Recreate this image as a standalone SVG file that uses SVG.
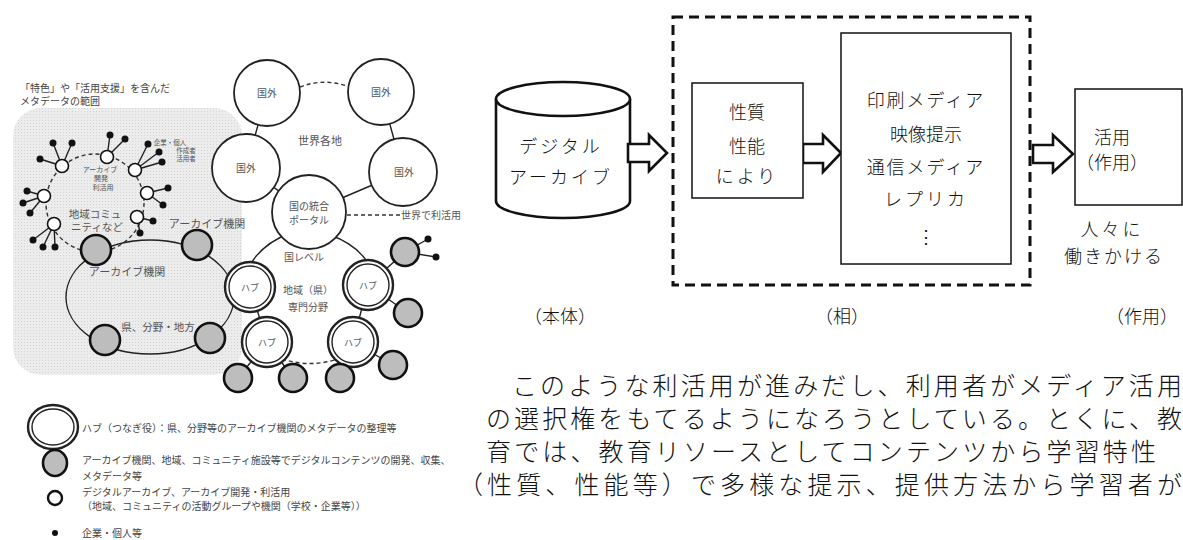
<svg xmlns="http://www.w3.org/2000/svg" width="1183" height="540" viewBox="0 0 1183 540">
<defs>
<pattern id="dots" width="3" height="3" patternUnits="userSpaceOnUse">
<rect width="3" height="3" fill="#ececec"/>
<rect width="1" height="1" fill="#d4d4d4"/>
</pattern>
<style>
.jp{font-family:"Noto Sans CJK JP","Noto Sans CJK SC",sans-serif;}
.sm{font-family:"Noto Sans CJK JP",sans-serif;fill:#555;text-anchor:middle;}
.lg{font-family:"Noto Sans CJK JP",sans-serif;fill:#444;font-size:10px;}
.rt{font-family:"Noto Sans CJK JP",sans-serif;fill:#111;font-size:18px;text-anchor:middle;font-weight:300;}
.para{font-family:"Noto Sans CJK JP",sans-serif;fill:#111;font-size:25px;font-weight:300;}
.world{fill:#fff;stroke:#222;stroke-width:1.8;}
.gray{fill:#bdbdbd;stroke:#111;stroke-width:2.6;}
.wc{fill:#fff;stroke:#111;stroke-width:1.6;}
.dot{fill:#111;}
.ln{stroke:#222;stroke-width:1.4;fill:none;}
.dash{stroke:#333;stroke-width:1.4;fill:none;stroke-dasharray:4 3;}
.hubo{fill:#fff;stroke:#222;stroke-width:2.4;}
.hubi{fill:#fff;stroke:#222;stroke-width:1.4;}
.box{fill:#fff;stroke:#111;stroke-width:1.5;}
.arrow{fill:#fff;stroke:#111;stroke-width:2.6;stroke-linejoin:miter;}
</style>
</defs>
<rect width="1183" height="540" fill="#fff"/>

<!-- LEFT DIAGRAM -->
<g id="shade"><rect x="13" y="108" width="229" height="267" rx="28" fill="url(#dots)"/></g>
<g id="title">
<text class="jp" x="20" y="92" font-size="10" fill="#444">「特色」や「活用支援」を含んだ</text>
<text class="jp" x="20" y="105" font-size="10" fill="#444">メタデータの範囲</text>
</g>

<g id="connectors">
<!-- world -->
<path class="dash" d="M300,87 Q323,78 347,86"/>
<line class="ln" x1="267" y1="93" x2="246" y2="168"/>
<line class="ln" x1="381" y1="92" x2="403" y2="172"/>
<line class="ln" x1="309" y1="212" x2="246" y2="168"/>
<line class="ln" x1="309" y1="212" x2="403" y2="172"/>
<line class="dash" x1="347" y1="215" x2="400" y2="215"/>
<!-- national level ring -->
<path class="ln" d="M250,265 Q262,244 290,233"/>
<path class="ln" d="M330,235 Q356,244 368,263"/>
<line class="ln" x1="250" y1="287" x2="267" y2="342"/>
<line class="ln" x1="368" y1="285" x2="353" y2="342"/>
<path class="dash" d="M282,359 Q310,368 338,359"/>
<!-- hub spokes -->
<line class="ln" x1="368" y1="285" x2="405" y2="252"/>
<line class="ln" x1="405" y1="252" x2="428" y2="239"/>
<line class="ln" x1="405" y1="252" x2="436" y2="257"/>
<line class="ln" x1="368" y1="285" x2="408" y2="313"/>
<line class="ln" x1="353" y1="342" x2="393" y2="365"/>
<line class="ln" x1="353" y1="342" x2="340" y2="377"/>
<line class="ln" x1="267" y1="342" x2="238" y2="378"/>
<line class="ln" x1="267" y1="342" x2="293" y2="378"/>
<!-- regional ellipse -->
<ellipse class="ln" cx="150" cy="297" rx="84" ry="57"/>
<!-- community dashed ring -->
<circle class="dash" cx="95" cy="203" r="49"/>
<!-- spokes to individuals -->
<g class="ln">
<line x1="62" y1="166" x2="40" y2="159"/><line x1="62" y1="166" x2="53" y2="143"/><line x1="62" y1="166" x2="72" y2="143"/>
<line x1="107" y1="157" x2="110" y2="135"/><line x1="107" y1="157" x2="125" y2="139"/>
<line x1="135" y1="170" x2="148" y2="144"/><line x1="135" y1="170" x2="159" y2="152"/><line x1="135" y1="170" x2="162" y2="162"/>
<line x1="147" y1="193" x2="168" y2="188"/><line x1="147" y1="193" x2="163" y2="205"/>
<line x1="137" y1="217" x2="153" y2="221"/><line x1="137" y1="217" x2="140" y2="233"/>
<line x1="44" y1="196" x2="27" y2="191"/><line x1="44" y1="196" x2="23" y2="203"/><line x1="44" y1="196" x2="30" y2="213"/>
<line x1="54" y1="224" x2="33" y2="240"/><line x1="54" y1="224" x2="43" y2="247"/><line x1="54" y1="224" x2="55" y2="247"/>
</g>
</g>

<g id="world-nodes">
<g id="kokugai-1"><circle class="world" cx="267" cy="93" r="33"/><text class="sm" x="267" y="97" font-size="10">国外</text></g>
<g id="kokugai-2"><circle class="world" cx="381" cy="92" r="33"/><text class="sm" x="381" y="96" font-size="10">国外</text></g>
<g id="kokugai-3"><circle class="world" cx="246" cy="168" r="34"/><text class="sm" x="246" y="172" font-size="10">国外</text></g>
<g id="kokugai-4"><circle class="world" cx="403" cy="172" r="34"/><text class="sm" x="404" y="176" font-size="10">国外</text></g>
<g id="sekai"><text class="sm" x="320" y="145" font-size="11">世界各地</text></g>
<g id="portal"><circle class="world" cx="309" cy="212" r="37"/><text class="sm" x="309" y="210" font-size="10">国の統合</text><text class="sm" x="309" y="224" font-size="10">ポータル</text></g>
<g id="sekai-riyou"><text class="sm" x="401" y="219" font-size="10" style="text-anchor:start">世界で利活用</text></g>
<g id="kuni-level"><text class="sm" x="304" y="261" font-size="10">国レベル</text>
<text class="sm" x="308" y="294" font-size="10">地域（県）</text><text class="sm" x="308" y="311" font-size="10">専門分野</text></g>
</g>

<g id="hubs">
<g id="hub-1"><circle class="hubo" cx="250" cy="287" r="25"/><circle class="hubi" cx="250" cy="287" r="21"/><text class="sm" x="250" y="291" font-size="9">ハブ</text></g>
<g id="hub-2"><circle class="hubo" cx="368" cy="285" r="25"/><circle class="hubi" cx="368" cy="285" r="21"/><text class="sm" x="368" y="289" font-size="9">ハブ</text></g>
<g id="hub-3"><circle class="hubo" cx="267" cy="342" r="25"/><circle class="hubi" cx="267" cy="342" r="21"/><text class="sm" x="267" y="346" font-size="9">ハブ</text></g>
<g id="hub-4"><circle class="hubo" cx="353" cy="342" r="25"/><circle class="hubi" cx="353" cy="342" r="21"/><text class="sm" x="353" y="346" font-size="9">ハブ</text></g>
</g>

<g id="archive-nodes">
<circle class="gray" cx="405" cy="252" r="14"/>
<circle class="gray" cx="408" cy="313" r="14"/>
<circle class="gray" cx="393" cy="365" r="14"/>
<circle class="gray" cx="340" cy="378" r="14"/>
<circle class="gray" cx="293" cy="378" r="14"/>
<circle class="gray" cx="238" cy="378" r="14"/>
<circle class="gray" cx="96" cy="250" r="15"/>
<circle class="gray" cx="197" cy="245" r="15"/>
<circle class="gray" cx="105" cy="340" r="15"/>
<circle class="gray" cx="210" cy="338" r="15"/>
<circle class="dot" cx="428" cy="239" r="3.5"/>
<circle class="dot" cx="436" cy="257" r="3.5"/>
</g>

<g id="region-labels">
<text class="sm" x="207" y="228" font-size="11">アーカイブ機関</text>
<text class="sm" x="127" y="276" font-size="11">アーカイブ機関</text>
<text class="sm" x="158" y="331" font-size="10.5">県、分野・地方</text>
</g>

<g id="community">
<circle class="wc" cx="62" cy="166" r="6.5"/>
<circle class="wc" cx="107" cy="157" r="6.5"/>
<circle class="wc" cx="135" cy="170" r="6.5"/>
<circle class="wc" cx="147" cy="193" r="6.5"/>
<circle class="wc" cx="137" cy="217" r="6.5"/>
<circle class="wc" cx="44" cy="196" r="6.5"/>
<circle class="wc" cx="54" cy="224" r="6.5"/>
<g class="dot">
<circle cx="40" cy="159" r="3.5"/><circle cx="53" cy="143" r="3.5"/><circle cx="72" cy="143" r="3.5"/>
<circle cx="110" cy="135" r="3.5"/><circle cx="125" cy="139" r="3.5"/>
<circle cx="148" cy="144" r="3.5"/><circle cx="159" cy="152" r="3.5"/><circle cx="162" cy="162" r="3.5"/>
<circle cx="168" cy="188" r="3.5"/><circle cx="163" cy="205" r="3.5"/>
<circle cx="153" cy="221" r="3.5"/><circle cx="140" cy="233" r="3.5"/>
<circle cx="27" cy="191" r="3.5"/><circle cx="23" cy="203" r="3.5"/><circle cx="30" cy="213" r="3.5"/>
<circle cx="33" cy="240" r="3.5"/><circle cx="43" cy="247" r="3.5"/><circle cx="55" cy="247" r="3.5"/>
</g>
<text class="sm" x="100" y="172" font-size="7">アーカイブ</text>
<text class="sm" x="101" y="181" font-size="7">開発</text>
<text class="sm" x="103" y="190" font-size="7">利活用</text>
<text class="sm" x="95" y="218" font-size="10.5">地域コミュ</text>
<text class="sm" x="97" y="231" font-size="10.5">ニティなど</text>
<text class="sm" x="170" y="145" font-size="6.5">企業・個人</text>
<text class="sm" x="186" y="153" font-size="6.5">作成者</text>
<text class="sm" x="186" y="161" font-size="6.5">活用者</text>
</g>

<g id="legend">
<ellipse class="hubo" cx="53" cy="427" rx="25" ry="22"/>
<ellipse class="hubi" cx="53" cy="427" rx="21" ry="18"/>
<text class="lg" x="82" y="432">ハブ（つなぎ役）：県、分野等のアーカイブ機関のメタデータの整理等</text>
<ellipse class="gray" cx="55" cy="463" rx="12" ry="13"/>
<text class="lg" x="82" y="464">アーカイブ機関、地域、コミュニティ施設等でデジタルコンテンツの開発、収集、</text>
<text class="lg" x="82" y="480">メタデータ等</text>
<circle cx="55" cy="498" r="7" fill="#fff" stroke="#111" stroke-width="2.4"/>
<text class="lg" x="82" y="496">デジタルアーカイブ、アーカイブ開発・利活用</text>
<text class="lg" x="82" y="510">（地域、コミュニティの活動グループや機関（学校・企業等））</text>
<circle class="dot" cx="55" cy="533" r="3"/>
<text class="lg" x="82" y="537">企業・個人等</text>
</g>

<!-- RIGHT DIAGRAM -->
<g id="dashed-frame"><rect x="673" y="17" width="357" height="268" fill="none" stroke="#111" stroke-width="3" stroke-dasharray="10 6"/></g>
<g id="cylinder">
<path d="M496,99 L496,201 A67,17 0 0 0 630,201 L630,99" fill="#fff" stroke="#111" stroke-width="2.6"/>
<ellipse cx="563" cy="99" rx="67" ry="17" fill="#fff" stroke="#111" stroke-width="2.6"/>
<text class="rt" x="561" y="153" letter-spacing="3">デジタル</text>
<text class="rt" x="561" y="184" letter-spacing="3">アーカイブ</text>
</g>
<g id="arrows">
<polygon class="arrow" points="628,144 649,144 649,135 667,153 649,171 649,162 628,162"/>
<polygon class="arrow" points="803,144 823,144 823,135 841,153 823,172 823,163 803,163"/>
<polygon class="arrow" points="1033,145 1053,145 1053,135 1073,154 1053,172 1053,163 1033,163"/>
</g>
<g id="seishitsu">
<rect class="box" x="692" y="83" width="111" height="115"/>
<text class="rt" x="747" y="119">性質</text>
<text class="rt" x="747" y="153">性能</text>
<text class="rt" x="747" y="183" letter-spacing="3">により</text>
</g>
<g id="media">
<rect class="box" x="841" y="33" width="170" height="231"/>
<text class="rt" x="926" y="107" letter-spacing="2">印刷メディア</text>
<text class="rt" x="926" y="141">映像提示</text>
<text class="rt" x="926" y="174" letter-spacing="2">通信メディア</text>
<text class="rt" x="926" y="206" letter-spacing="3">レプリカ</text>
<text class="rt" x="926" y="243">⋮</text>
</g>
<g id="katsuyou">
<rect class="box" x="1075" y="89" width="107" height="116"/>
<text class="rt" x="1112" y="144">活用</text>
<text class="rt" x="1112" y="169">（作用）</text>
</g>
<g id="hito"><text class="rt" x="1112" y="236" letter-spacing="3">人々に</text><text class="rt" x="1114" y="263" letter-spacing="2">働きかける</text></g>
<g id="bottom-labels">
<text class="rt" x="560" y="323">（本体）</text>
<text class="rt" x="842" y="323">（相）</text>
<text class="rt" x="1142" y="323">（作用）</text>
</g>
<g id="paragraph">
<text class="para" x="512" y="395" textLength="670" lengthAdjust="spacing">このような利活用が進みだし、利用者がメディア活用</text>
<text class="para" x="486" y="428" textLength="696" lengthAdjust="spacing">の選択権をもてるようになろうとしている。とくに、教</text>
<text class="para" x="486" y="461" textLength="670" lengthAdjust="spacing">育では、教育リソースとしてコンテンツから学習特性</text>
<text class="para" x="458" y="494" textLength="724" lengthAdjust="spacing">（性質、性能等）で多様な提示、提供方法から学習者が</text>
</g>
</svg>
